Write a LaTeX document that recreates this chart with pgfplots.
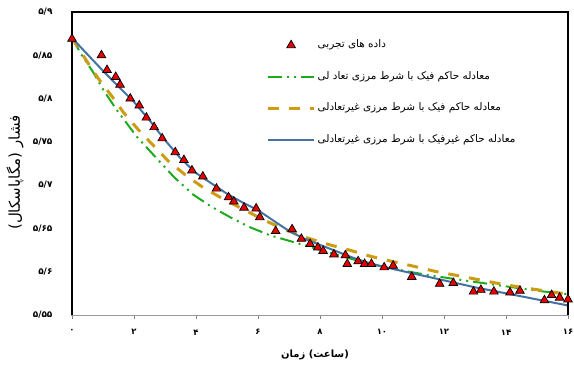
\documentclass[border=0pt]{standalone}
\usepackage{fontspec}
\usepackage{pgfplots}
\pgfplotsset{compat=1.18}
\TeXXeTstate=1
\newfontfamily\arabicfont[Script=Arabic]{DejaVu Sans}
\definecolor{cblue}{RGB}{68,114,162}
\definecolor{corange}{RGB}{205,155,20}
\definecolor{cgreen}{RGB}{30,170,30}
\definecolor{cred}{RGB}{230,0,0}
\begin{document}
\begin{tikzpicture}
\begin{axis}[
  at={(0,0)}, anchor=south west,
  scale only axis, width=496bp, height=303bp,
  xmin=0, xmax=16, ymin=5.55, ymax=5.9,
  clip=false,
  axis line style={draw=gray!80, line width=1bp},
  xtick={0,2,4,6,8,10,12,14,16},
  xticklabels={۰,۲,۴,۶,۸,۱۰,۱۲,۱۴,۱۶},
  ytick={5.55,5.6,5.65,5.7,5.75,5.8,5.85,5.9},
  yticklabels={۵/۵۵,۵/۶,۵/۶۵,۵/۷,۵/۷۵,۵/۸,۵/۸۵,۵/۹},
  tick align=outside, major tick length=4bp,
  x tick style={gray, line width=0.8bp},
  y tick style={draw=none},
  xtick pos=bottom, ytick pos=left,
  xticklabel style={font=\arabicfont\bfseries\fontsize{8.5}{10}\selectfont, yshift=-7bp},
  yticklabel style={font=\arabicfont\bfseries\fontsize{9}{10}\selectfont, xshift=-12bp},
  xlabel={\beginR (ساعت) زمان\endR},
  xlabel style={font=\arabicfont\bfseries\fontsize{10}{12}\selectfont, at={(axis description cs:0.49,-0.132)}, anchor=center},
  ylabel={\beginR فشار (مگاپاسکال)\endR},
  ylabel style={font=\arabicfont\fontsize{15}{17}\selectfont, at={(axis description cs:-0.115,0.47)}, anchor=center, rotate=0},
  legend cell align=left,
  legend image code/.code={\draw[mark repeat=2,mark phase=2,#1] plot coordinates {(0bp,0bp) (23bp,0bp) (46bp,0bp)};},
  legend style={at={(rel axis cs:0.392,0.9125)}, anchor=north west, draw=none, fill=none,
    font=\arabicfont\fontsize{10.5}{12}\selectfont, row sep=18.5bp, inner sep=0pt,
    nodes={inner sep=2bp, text height=7bp, text depth=2bp},
    /tikz/every even column/.append style={column sep=3bp}},
]
\addplot[only marks, mark=triangle*, mark size=5bp, mark options={fill=cred, draw=black, line width=0.7bp}] table {
x y
0 5.869
0.95 5.850
1.13 5.833
1.41 5.825
1.55 5.816
1.88 5.800
2.17 5.792
2.40 5.778
2.65 5.767
2.91 5.754
3.33 5.738
3.61 5.729
3.87 5.717
4.22 5.710
4.66 5.696
5.05 5.686
5.22 5.681
5.55 5.674
5.94 5.673
6.06 5.663
6.57 5.647
7.10 5.649
7.40 5.638
7.68 5.632
7.93 5.628
8.10 5.624
8.45 5.620
8.82 5.619
8.88 5.609
9.23 5.612
9.44 5.609
9.66 5.609
10.07 5.605
10.36 5.607
10.96 5.594
11.86 5.586
12.30 5.587
12.95 5.577
13.19 5.579
13.61 5.577
14.13 5.576
14.45 5.578
15.24 5.567
15.47 5.573
15.73 5.570
16.00 5.568
};
\addlegendentry{\beginR داده های تجربی\endR}
\addplot[cgreen, line width=2bp, dash pattern=on 14bp off 5bp on 2bp off 5bp on 2bp off 5bp] table {
x y
0 5.870
0.3 5.851
0.69 5.830
1.01 5.810
1.44 5.787
2.09 5.756
2.73 5.731
3.3 5.709
3.91 5.689
4.5 5.675
5.10 5.663
5.7 5.652
6.39 5.642
7.46 5.631
8.5 5.620
9.4 5.611
10.26 5.604
11.5 5.596
12.84 5.589
14.02 5.583
15 5.578
16 5.574
};
\addlegendentry{\beginR معادله حاکم فیک با شرط مرزی تعاد لی\endR}
\addplot[corange, line width=3bp, dash pattern=on 11bp off 10bp] table {
x y
0 5.870
0.25 5.856
0.5 5.842
0.85 5.823
1.28 5.803
1.66 5.784
2.14 5.764
2.62 5.746
3.1 5.728
3.65 5.712
4.24 5.697
4.88 5.684
5.53 5.672
6.17 5.660
6.92 5.648
7.5 5.640
8.22 5.632
8.95 5.625
9.61 5.618
10.31 5.612
11.06 5.606
11.76 5.600
12.52 5.595
13.22 5.590
13.97 5.585
14.67 5.581
15.42 5.577
16 5.574
};
\addlegendentry{\beginR معادله حاکم فیک با شرط مرزی غیرتعادلی\endR}
\addplot[cblue, line width=2bp] table {
x y
0 5.870
0.5 5.851
1 5.832
1.5 5.814
2 5.796
2.5 5.775
3 5.752
3.5 5.731
4 5.714
4.5 5.702
5 5.690
5.5 5.680
6 5.671
6.5 5.659
7 5.647
7.5 5.638
8 5.631
8.5 5.624
9 5.617
9.5 5.611
10 5.606
11 5.598
12 5.590
13 5.582
14 5.575
15 5.568
16 5.561
};
\addlegendentry{\beginR معادله حاکم غیرفیک با شرط مرزی غیرتعادلی\endR}
\draw[black, line width=1.4bp] (rel axis cs:0,0) -- (rel axis cs:0,1) -- (rel axis cs:1,1) -- (rel axis cs:1,0);
\end{axis}
\pgfresetboundingbox
\path (-72bp,-59bp) rectangle (502bp,315bp);
\end{tikzpicture}
\end{document}
